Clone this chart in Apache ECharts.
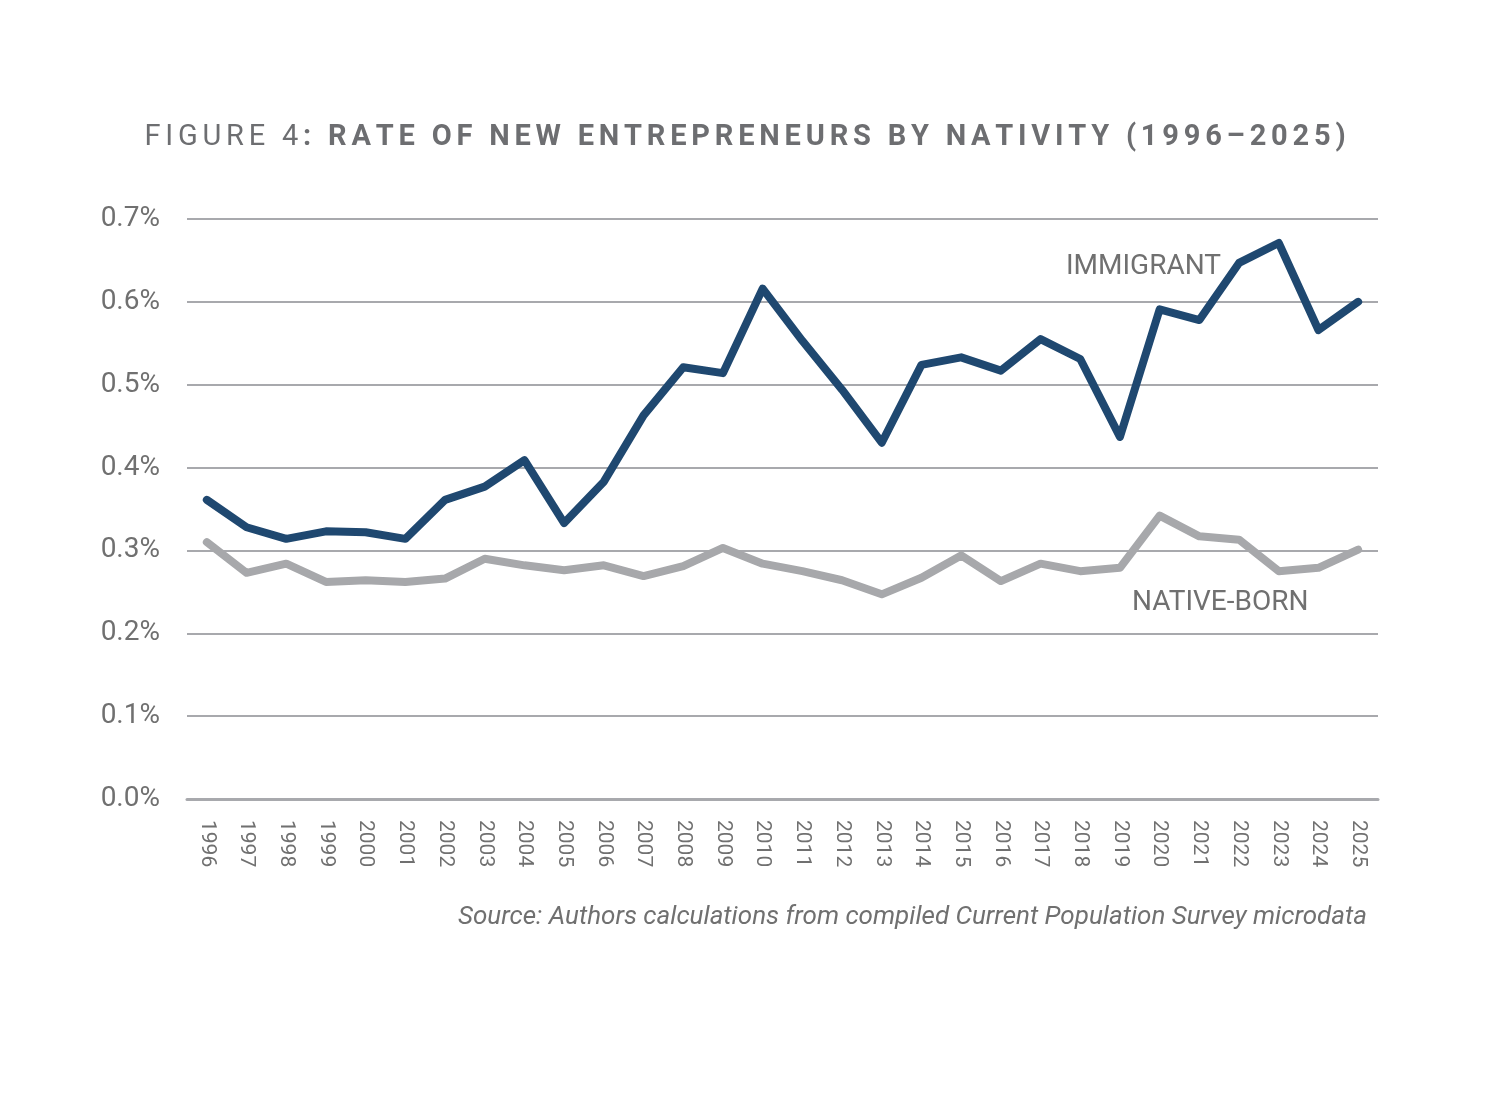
<!DOCTYPE html>
<html>
<head>
<meta charset="utf-8">
<script src="https://cdn.jsdelivr.net/npm/echarts@6/dist/echarts.min.js"></script>
<style>
  html, body { margin: 0; padding: 0; background: #fff; }
  #chart { width: 1512px; height: 1101px; }
</style>
</head>
<body>
<div id="chart"></div>
<script>
const years = ['1996', '1997', '1998', '1999', '2000', '2001', '2002', '2003', '2004', '2005',
  '2006', '2007', '2008', '2009', '2010', '2011', '2012', '2013', '2014', '2015',
  '2016', '2017', '2018', '2019', '2020', '2021', '2022', '2023', '2024', '2025'];

// rates in percent
const immigrant = [0.361, 0.328, 0.314, 0.323, 0.322, 0.314, 0.361, 0.377, 0.409, 0.333,
  0.383, 0.463, 0.521, 0.514, 0.616, 0.553, 0.494, 0.430, 0.524, 0.533,
  0.517, 0.555, 0.531, 0.437, 0.591, 0.578, 0.647, 0.671, 0.566, 0.600];

const nativeBorn = [0.310, 0.273, 0.284, 0.262, 0.264, 0.262, 0.266, 0.290, 0.282, 0.276,
  0.282, 0.269, 0.281, 0.303, 0.284, 0.275, 0.264, 0.247, 0.267, 0.294,
  0.263, 0.284, 0.275, 0.279, 0.342, 0.317, 0.313, 0.275, 0.279, 0.301];

const seriesNames = ['IMMIGRANT', 'NATIVE-BORN'];
const titleText = 'FIGURE 4';
const titleBold = ': RATE OF NEW ENTREPRENEURS BY NATIVITY (1996\u20132025)';
const sourceText = 'Source: Authors calculations from compiled Current Population Survey microdata';

const textGrey = '#707070';
const lineGrey = '#a8a9ad';

// canvas text has no letter-spacing, so every character gets its own padded token
function spaced(str, style) {
  return str.split('').map(function (c) { return '{' + style + '|' + c + '}'; }).join('');
}

const chart = echarts.init(document.getElementById('chart'));

const option = {
  backgroundColor: '#fff',
  animation: false,
  title: {
    text: spaced(titleText, 'a') + spaced(titleBold, 'b'),
    left: 740,
    top: 118,
    textAlign: 'center',
    textStyle: {
      rich: {
        a: { fontFamily: 'Roboto', fontSize: 29, fontWeight: 'normal', color: '#6d6e71', padding: [0, 2.4, 0, 2.4] },
        b: { fontFamily: 'Roboto', fontSize: 29, fontWeight: 'bold', color: '#6d6e71', padding: [0, 2.4, 0, 2.4] }
      }
    }
  },
  grid: {
    left: 187,
    right: 134,
    top: 219,
    bottom: 302,
    containLabel: false
  },
  xAxis: [
    {
      type: 'category',
      data: years,
      boundaryGap: true,
      axisLine: { lineStyle: { color: lineGrey, width: 3 } },
      axisTick: { alignWithLabel: true, length: 9, lineStyle: { color: lineGrey, width: 2 } },
      axisLabel: {
        rotate: -90,
        margin: 21,
        fontFamily: 'Roboto',
        fontSize: 21,
        color: textGrey
      }
    },
    {
      // second axis only to draw the inner half of the ticks
      type: 'category',
      data: years,
      position: 'bottom',
      boundaryGap: true,
      axisLine: { show: false },
      axisTick: { inside: true, alignWithLabel: true, length: 9, lineStyle: { color: lineGrey, width: 2 } },
      axisLabel: { show: false }
    }
  ],
  yAxis: {
    type: 'value',
    min: 0,
    max: 0.7,
    interval: 0.1,
    axisLine: { show: false },
    axisTick: { show: false },
    axisLabel: {
      margin: 27,
      fontFamily: 'Roboto',
      fontSize: 28,
      color: textGrey,
      formatter: function (v) {
        return v.toFixed(1) + '%';
      }
    },
    splitLine: { lineStyle: { color: lineGrey, width: 2 } }
  },
  series: [
    {
      name: seriesNames[1],
      type: 'line',
      data: nativeBorn,
      symbol: 'none',
      lineStyle: { color: '#a7a8ab', width: 8, cap: 'round', join: 'round' },
      z: 3
    },
    {
      name: seriesNames[0],
      type: 'line',
      data: immigrant,
      symbol: 'none',
      lineStyle: { color: '#1f4870', width: 8, cap: 'round', join: 'round' },
      z: 4
    }
  ],
  graphic: [
    {
      type: 'text',
      left: 1066,
      top: 253,
      style: { text: seriesNames[0], font: '28px Roboto', fill: textGrey }
    },
    {
      type: 'text',
      left: 1132,
      top: 589,
      style: { text: seriesNames[1], font: '28px Roboto', fill: textGrey }
    },
    {
      type: 'text',
      right: 145,
      top: 904,
      style: { text: sourceText, font: 'italic 26px Roboto', fill: textGrey }
    }
  ]
};

chart.setOption(option);
</script>
</body>
</html>
